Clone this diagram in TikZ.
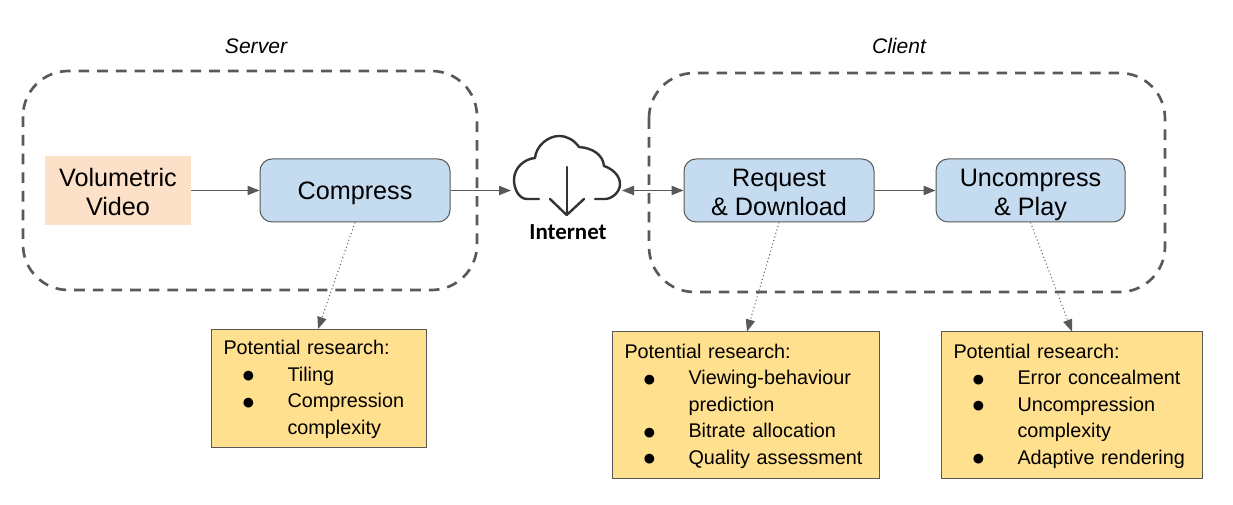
\documentclass[tikz,border=0pt]{standalone}
\usepackage{fontspec}
\setmainfont{Liberation Sans}
\newfontfamily\inetfont{Carlito}
\usetikzlibrary{arrows.meta}
\definecolor{linegrey}{HTML}{595959}
\definecolor{bluefill}{HTML}{C5DBF0}
\definecolor{orangefill}{HTML}{FCE0C8}
\definecolor{yellowfill}{HTML}{FFE08F}
\newcommand{\bl}[1]{\hspace*{18.75pt}\makebox[0pt]{\raisebox{-1.2pt}{\fontsize{17pt}{17pt}\selectfont ●}}\hspace*{29.25pt}#1}
\newcommand{\nb}[1]{\hspace*{48pt}#1}
\newcommand{\dn}[1]{\rule{0pt}{#1}}
\tikzset{
  x=0.75pt,y=-0.75pt,
  region/.style={draw=linegrey,line width=2pt,dash pattern=on 8pt off 6pt,rounded corners=34pt},
  procbox/.style={draw=linegrey,line width=0.75pt,fill=bluefill,rounded corners=9pt,minimum height=47.25pt,align=center,inner sep=0pt,font=\fontsize{18.9pt}{21.8pt}\selectfont},
  notebox/.style={draw=linegrey,line width=0.75pt,fill=yellowfill,anchor=north west,align=left,inner xsep=9pt,inner ysep=0pt,font=\fontsize{14.85pt}{19.9pt}\selectfont},
  flow/.style={draw=linegrey,line width=0.75pt,-{Triangle[length=9pt,width=7pt]}},
  flowboth/.style={draw=linegrey,line width=0.75pt,{Triangle[length=9pt,width=7pt]}-{Triangle[length=9pt,width=7pt]}},
  hint/.style={draw=linegrey,line width=0.75pt,dotted,-{Triangle[length=9pt,width=7pt]}},
  caption/.style={font=\fontsize{15.8pt}{18pt}\itshape\selectfont},
  cloudline/.style={draw=black!80,line width=1.8pt,line cap=round,line join=round},
}
\begin{document}
\begin{tikzpicture}
\useasboundingbox (0,0) rectangle (1233,505);
\path[region] (23,71) rectangle (477,290);
\path[region] (649,73) rectangle (1165,292);
\node[caption] (servertxt) at (256,46) {Server};
\node[caption] (clienttxt) at (899,46) {Client};
\node[fill=orangefill,minimum width=109.5pt,minimum height=51.75pt,align=center,inner sep=0pt,font=\fontsize{18.9pt}{21.8pt}\selectfont] (vol) at (118,190.5) {\dn{16pt}Volumetric\\Video};
\node[procbox,minimum width=142.5pt] (comp) at (355,190.5) {\dn{18pt}Compress};
\node[procbox,minimum width=142.5pt] (req) at (779,190.5) {\dn{16pt}Request\\\&~Download};
\node[procbox,minimum width=141.75pt] (unc) at (1030.5,190.5) {\dn{20pt}Uncompress\\\&~Play};
\node[notebox,text width=143.25pt,minimum height=88.5pt] (n1) at (211,329) {\dn{12.2pt}Potential research:\\\bl{Tiling}\\\bl{Compression}\\\nb{complexity}};
\node[notebox,text width=182.25pt,minimum height=110.25pt] (n2) at (612,331.5) {\dn{11.8pt}Potential research:\\\bl{Viewing-behaviour}\\\nb{prediction}\\\bl{Bitrate allocation}\\\bl{Quality assessment}};
\node[notebox,text width=177.75pt,minimum height=110.25pt] (n3) at (941,331.5) {\dn{11.8pt}Potential research:\\\bl{Error concealment}\\\bl{Uncompression}\\\nb{complexity}\\\bl{Adaptive rendering}};
% cloud
\coordinate (cloudL) at (511,190.5);
\coordinate (cloudR) at (622,190.5);
\path[cloudline] (539,199) -- (527,199)
  .. controls (519,199) and (514,189) .. (514,180)
  .. controls (514,168) and (524,159) .. (535,158)
  .. controls (536,146) and (548,136) .. (559,136)
  .. controls (567,136) and (574,140) .. (579,147)
  .. controls (593,148) and (603,155) .. (604,166)
  .. controls (613,169) and (620,176) .. (620,184)
  .. controls (620,193) and (611,199) .. (605,199) -- (595,199);
\path[cloudline] (566.7,167) -- (566.7,215);
\path[cloudline] (550,199) -- (566.7,215) -- (584,199);
\node[font=\inetfont\bfseries\fontsize{17.2pt}{19pt}\selectfont] (inet) at (568,232) {Internet};
% connectors
\draw[flow] (vol.east) -- (comp.west);
\draw[flow] (comp.east) -- (cloudL);
\draw[flowboth] (cloudR) -- (req.west);
\draw[flow] (req.east) -- (unc.west);
\draw[hint] (comp.south) -- (318,329);
\draw[hint] (req.south) -- (747,331.5);
\draw[hint] (unc.south) -- (1072,331.5);
\end{tikzpicture}
\end{document}
